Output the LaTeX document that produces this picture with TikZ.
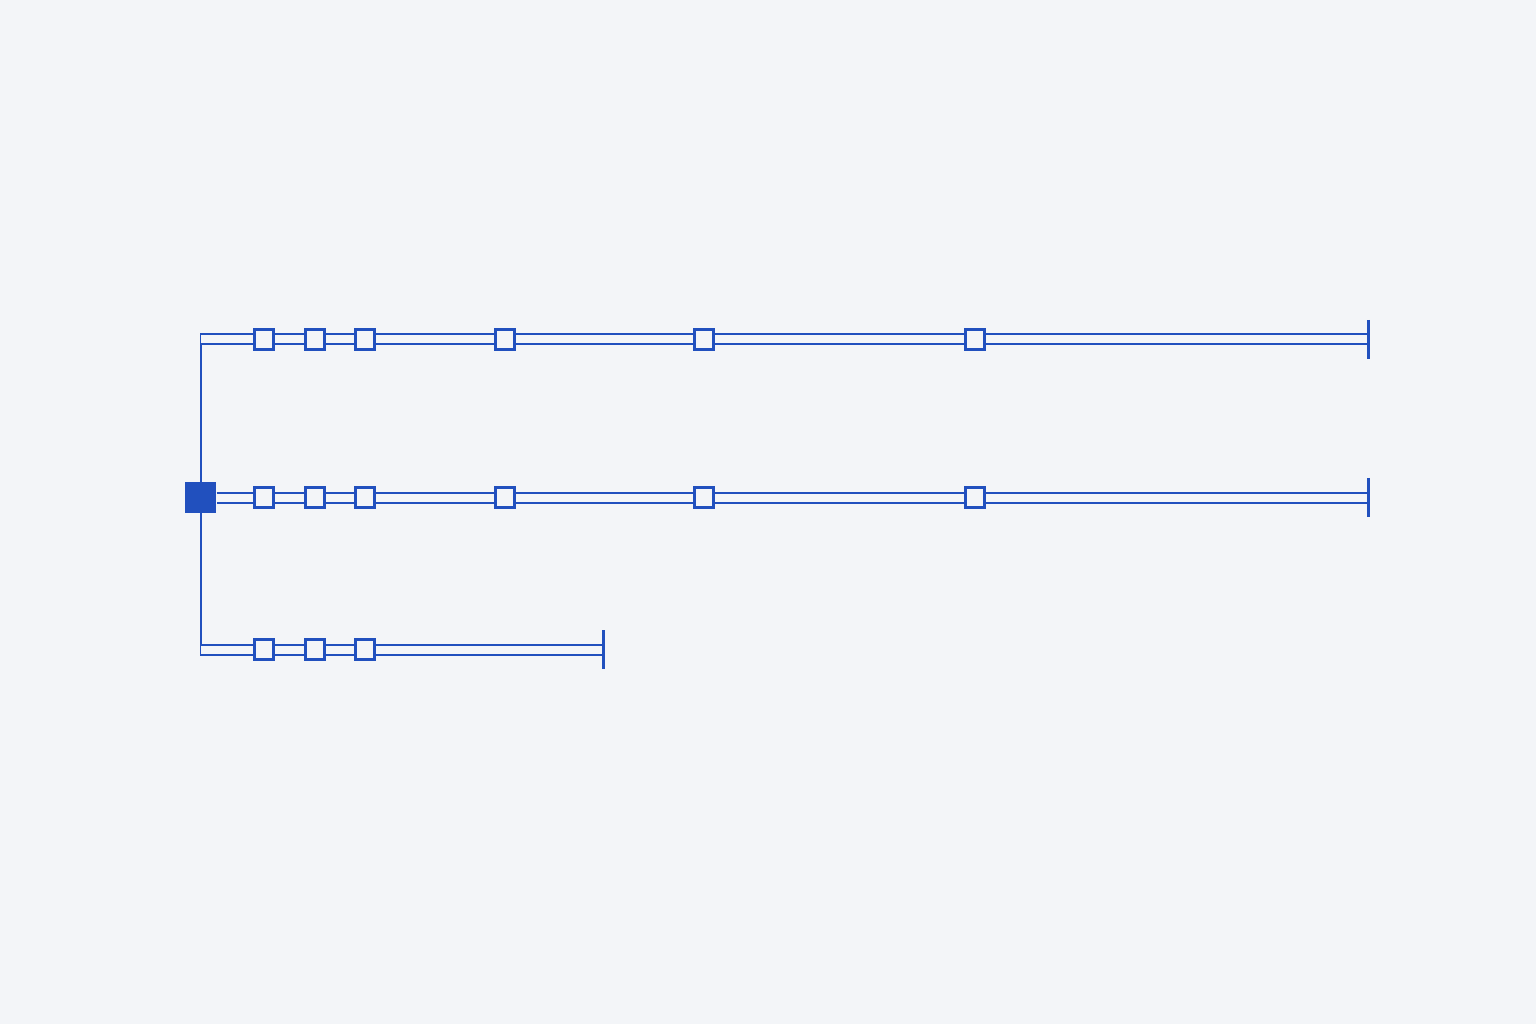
\documentclass[tikz,border=0pt]{standalone}
\usetikzlibrary{calc}
\definecolor{rail}{RGB}{33,80,190}
\definecolor{paper}{RGB}{243,245,248}
\begin{document}
\begin{tikzpicture}[x=0.01cm, y=-0.01cm]
    \tikzstyle{track} = [draw=rail, line width=0.02cm, double=paper, double distance=0.08cm]
    \tikzstyle{wire} = [draw=rail, line width=0.02cm]
    \tikzstyle{station} = [draw=rail, fill=paper, line width=0.03cm, minimum size=0.195cm, inner sep=0pt]
    \tikzstyle{hub} = [fill=rail, minimum size=0.31cm, inner sep=0pt]
    \tikzstyle{endbar} = [draw=rail, line width=0.03cm]
    \fill[paper] (0, 0) rectangle (1536, 1024);
    % ends of the three rows
    \coordinate (a0) at (201, 339.3);
    \coordinate (c0) at (201, 649.5);
    \coordinate (aend) at (1368, 339.3);
    \coordinate (bend) at (1368, 497.5);
    \coordinate (cend) at (603, 649.5);
    \draw[wire] ([yshift=0.06cm]a0) -- ([yshift=-0.06cm]c0);
    \node[hub] (h) at (200.5, 497.5) {};
    \foreach \x [count=\i] in {264, 315, 365, 505, 704, 975} {
        \node[station] (a\i) at (\x, 339.3) {};
        \node[station] (b\i) at (\x, 497.5) {};
    }
    \foreach \x [count=\i] in {264, 315, 365}
        \node[station] (c\i) at (\x, 649.5) {};
    % tracks
    \draw[track] (a0) -- (a1);
    \draw[track] (h) -- (b1);
    \draw[track] (c0) -- (c1);
    \foreach \i/\j in {1/2, 2/3, 3/4, 4/5, 5/6} {
        \draw[track] (a\i) -- (a\j);
        \draw[track] (b\i) -- (b\j);
    }
    \draw[track] (c1) -- (c2);
    \draw[track] (c2) -- (c3);
    \draw[track] (a6) -- (aend);
    \draw[track] (b6) -- (bend);
    \draw[track] (c3) -- (cend);
    % end bars
    \draw[endbar] ([yshift=0.195cm]aend) -- ([yshift=-0.195cm]aend);
    \draw[endbar] ([yshift=0.195cm]bend) -- ([yshift=-0.195cm]bend);
    \draw[endbar] ([yshift=0.19cm]cend) -- ([yshift=-0.19cm]cend);
\end{tikzpicture}
\end{document}
